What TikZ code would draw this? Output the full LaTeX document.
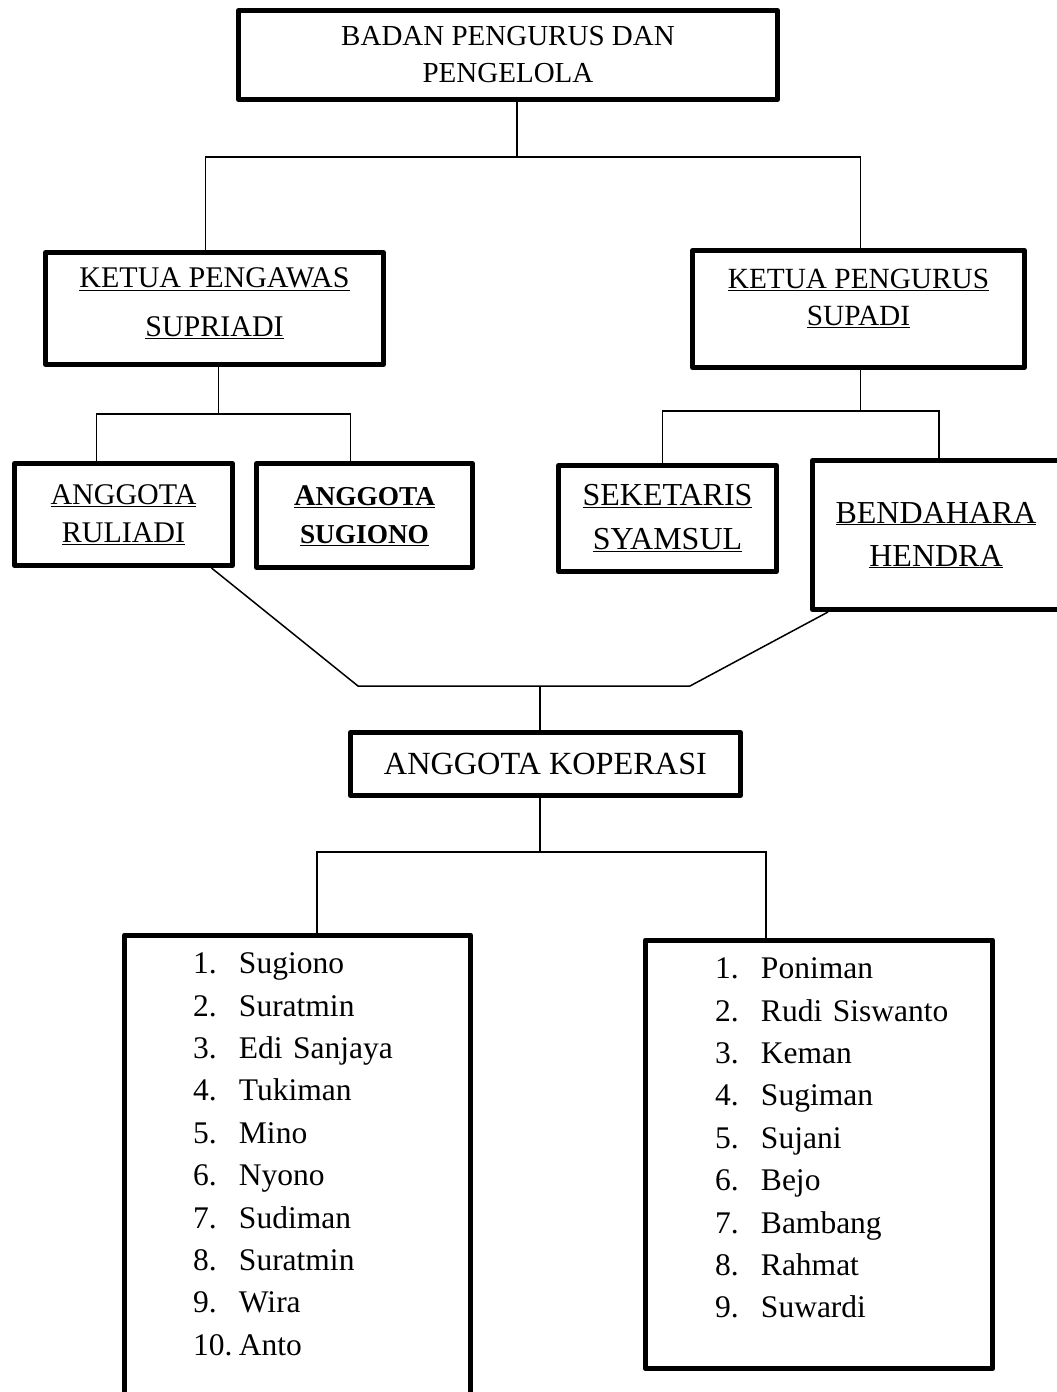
\documentclass[tikz,border=0pt]{standalone}
\usepackage{fontspec}
\setmainfont{Liberation Serif}
\usetikzlibrary{positioning}

\tikzset{
  kotak/.style={draw, line width=5pt, line join=round, align=center, inner sep=0pt,
    font=\fontsize{29}{37}\selectfont},
  daftar/.style={draw, line width=5pt, line join=round, align=left, anchor=north,
    inner ysep=9pt, font=\fontsize{31.5}{42.4}\selectfont},
  garis/.style={line width=1.5pt}
}
\newcommand{\no}[1]{\makebox[46pt][l]{#1}}

\begin{document}
\begin{tikzpicture}[x=1pt,y=-1pt]

        \useasboundingbox (0,0) rectangle (1057,1392);

        \node[kotak, minimum width=539, minimum height=89] (badan) at (508,55) {BADAN PENGURUS DAN\\PENGELOLA};
        \node[kotak, minimum width=338, minimum height=112, font=\fontsize{30}{37}\selectfont] (pengawas) at (214.5,308.5)
            {\underline{KETUA PENGAWAS}\\[12pt]\underline{SUPRIADI}\rule[-12pt]{0pt}{0pt}};
        \node[kotak, minimum width=332, minimum height=117, font=\fontsize{29.3}{37}\selectfont] (pengurus) at (858.5,309)
            {\underline{KETUA PENGURUS}\\\underline{SUPADI}\rule[-24pt]{0pt}{0pt}};
        \node[kotak, minimum width=218, minimum height=102, font=\fontsize{30}{38}\selectfont] (ruliadi) at (123.5,514.5) {\underline{ANGGOTA}\\\underline{RULIADI}};
        \node[kotak, minimum width=216, minimum height=104, font=\fontsize{30}{38}\selectfont] (sugiono) at (364.5,515.5)
            {\textbf{\underline{A{\fontsize{27.3}{38}\selectfont NGGOTA}}}\\\textbf{\underline{\fontsize{27.3}{38}\selectfont SUGIONO}}};
        \node[kotak, minimum width=218, minimum height=106, font=\fontsize{32}{44}\selectfont] (seketaris) at (667.5,518.5) {\underline{SEKETARIS}\\\underline{SYAMSUL}};
        \node[kotak, minimum width=247, minimum height=149, font=\fontsize{32}{43}\selectfont] (bendahara) at (936,535) {\underline{BENDAHARA}\\\underline{HENDRA}};
        \node[kotak, minimum width=390, minimum height=63, font=\fontsize{32.3}{40}\selectfont] (koperasi) at (545.5,764) {ANGGOTA KOPERASI};

        \node[daftar, inner xsep=68.5pt, text width=209pt] (anggotaA) at (297.5,932.5) {%
            \strut\no{1.}Sugiono\\
            \no{2.}Suratmin\\
            \no{3.}Edi~Sanjaya\\
            \no{4.}Tukiman\\
            \no{5.}Mino\\
            \no{6.}Nyono\\
            \no{7.}Sudiman\\
            \no{8.}Suratmin\\
            \no{9.}Wira\\
            \no{10.}Anto\rule[-71pt]{0pt}{0pt}};
        \node[daftar, inner xsep=69.5pt, text width=208pt] (anggotaB) at (819,937.5) {%
            \strut\no{1.}Poniman\\
            \no{2.}Rudi~Siswanto\\
            \no{3.}Keman\\
            \no{4.}Sugiman\\
            \no{5.}Sujani\\
            \no{6.}Bejo\\
            \no{7.}Bambang\\
            \no{8.}Rahmat\\
            \no{9.}Suwardi\rule[-42pt]{0pt}{0pt}};

        \draw[garis] ([xshift=9]badan.south) -- ++(0,55) coordinate (jA);
        \draw[garis] (jA) -| ([xshift=-9]pengawas.north);
        \draw[garis] (jA) -| ([xshift=2]pengurus.north);

        \draw[garis] ([xshift=4]pengawas.south) -- ++(0,47) coordinate (jB);
        \draw[garis] (jB) -| ([xshift=-27]ruliadi.north);
        \draw[garis] (jB) -| ([xshift=-14]sugiono.north);

        \draw[garis] ([xshift=2]pengurus.south) -- ++(0,41) coordinate (jC);
        \draw[garis] (jC) -| ([xshift=-5]seketaris.north);
        \draw[garis] (jC) -| ([xshift=3]bendahara.north);

        \coordinate (kL) at (358,686);
        \coordinate (kR) at (690,686);
        \draw[garis] ([xshift=88]ruliadi.south) -- (kL) -- (kR) -- ([xshift=-108]bendahara.south);
        \draw[garis] ([xshift=-5.5]koperasi.north) -- ++(0,-44);

        \draw[garis] ([xshift=-5.5]koperasi.south) -- ++(0,54) coordinate (jD);
        \draw[garis] (jD) -| ([xshift=19.5]anggotaA.north);
        \draw[garis] (jD) -| ([xshift=-53]anggotaB.north);

\end{tikzpicture}
\end{document}
